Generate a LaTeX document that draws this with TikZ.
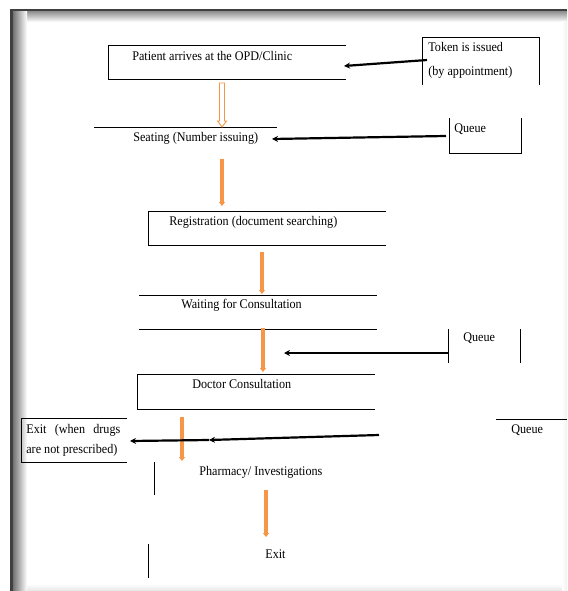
\documentclass[tikz,border=0pt]{standalone}
\usepackage{fontspec}
\setmainfont[FakeStretch=0.92]{Liberation Serif}
\usetikzlibrary{arrows.meta,calc}
\definecolor{orng}{RGB}{247,150,70}
\newcommand{\lbfont}{\fontsize{13.2}{15}\selectfont}

\begin{document}
\begin{tikzpicture}[x=1pt,y=-1pt,line width=0.7pt,
        lbl/.style={inner sep=0pt, anchor=west, font=\lbfont},
        blk/.style={line width=2.2pt, -{Stealth[length=6pt,width=6pt]}},
        org/.style={draw=orng, line width=3.5pt,
                        -{Triangle[length=4pt,width=6pt]}}]
\useasboundingbox (0,0) rectangle (567,591);
% frame
\shade[top color=black!45, bottom color=white] (10,11) rectangle (567,22);
\shade[left color=black!55, right color=white] (13,11) rectangle (27,591);
\fill[black!75] (10,9.5) rectangle (567,11.5);
\fill[black!75] (10,10) rectangle (13,591);
\shade[top color=white, bottom color=black!10] (27,584) rectangle (567,591);
\shade[left color=white, right color=black!6] (562,22) rectangle (567,591);

% steps
\draw (346,45) -- (108,45) -- (108,79) -- (346,79);
\node[lbl] (pat) at (132,56) {Patient arrives at the OPD/Clinic};
\draw (94,127) -- (277,127);
\node[lbl] (seat) at (133,138) {Seating (Number issuing)};
\draw (386,211) -- (148,211) -- (148,245) -- (386,245);
\node[lbl] (reg) at (169,222) {Registration (document searching)};
\draw (139,295) -- (377,295) (139,329) -- (377,329);
\node[lbl] (wait) at (181,305) {Waiting for Consultation};
\draw (375,374) -- (137,374) -- (137,409) -- (375,409);
\node[lbl] (doc) at (192,384) {Doctor Consultation};
\draw (154,462) -- (154,495);
\node[lbl] (phar) at (199,472) {Pharmacy/ Investigations};
\draw (148,544) -- (148,578);
\node[lbl] (exit) at (265,554) {Exit};

% side boxes
\draw (422,85) -- (422,37) -- (539,37) -- (539,85);
\node[lbl, font=\fontsize{13.2}{24}\selectfont, align=left] (tok)
    at (428,60) {Token is issued\\(by appointment)};
\draw (449,118) -- (449,153) -- (521,153) -- (521,118);
\node[lbl] (qa) at (454,129) {Queue};
\draw (448,329) -- (448,363) (520,329) -- (520,363);
\node[lbl] (qb) at (463,338) {Queue};
\draw (496,419) -- (567,419);
\node[lbl] (qc) at (511,430) {Queue};
\draw (127,418) -- (21,418) -- (21,462) -- (127,462);
\node[lbl, font=\fontsize{13.2}{20}\selectfont, align=left] (exitn)
    at (26,440) {\makebox[94pt][s]{Exit (when drugs}\\are not prescribed)};

% flow arrows
\coordinate (h1) at (222,83);
\coordinate (h2) at (222,127);
\draw[orng, line width=0.9pt, fill=white]
    ($(h1)+(-2.5,0)$) -- ($(h2)+(-2.5,-6)$) -- ($(h2)+(-4.5,-6)$) -- (h2)
    -- ($(h2)+(4.5,-6)$) -- ($(h2)+(2.5,-6)$) -- ($(h1)+(2.5,0)$) -- cycle;
\draw[org] (222,159) coordinate (s1) -- (222,206) coordinate (r1);
\draw[org] (262,252) coordinate (r2) -- (262,294) coordinate (w1);
\draw[org] (263,328) coordinate (w2) -- (263,372) coordinate (d1);
\draw[org] (182,417) coordinate (d2) -- (182,461) coordinate (p1);
\draw[org] (266,490) coordinate (p2) -- (266,537) coordinate (e1);

% queue arrows
\coordinate (tkout) at (427,60);
\coordinate (patin) at (344,66);
\draw[blk] (tkout) -- (patin);
\coordinate (qaout) at (446,136);
\coordinate (seatin) at (272,139);
\draw[blk] (qaout) -- (seatin);
\coordinate (qbout) at (449,353);
\coordinate (docin) at (284,353);
\draw[blk] (qbout) -- (docin);
\coordinate (qcout) at (379,435);
\coordinate (mid) at (209,440);
\coordinate (exitin) at (130,441);
\draw[blk] (qcout) -- (mid);
\draw[blk] (mid) -- (exitin);
\end{tikzpicture}
\end{document}
